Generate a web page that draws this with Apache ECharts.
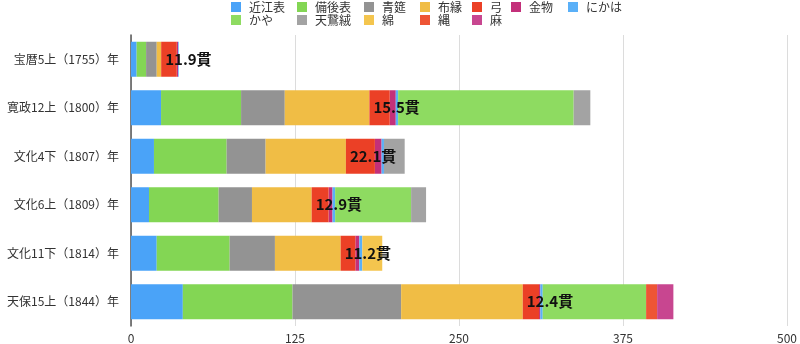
<!DOCTYPE html>
<html>
<head>
<meta charset="utf-8">
<script src="https://cdn.jsdelivr.net/npm/echarts@6/dist/echarts.min.js"></script>
<style>
  html, body { margin: 0; padding: 0; background: #fff; }
  #chart { width: 800px; height: 344px; }
</style>
</head>
<body>
<div id="chart"></div>
<script>
// 畳関連品目の年次別内訳（単位：貫）
const categories = ['宝暦5上（1755）年', '寛政12上（1800）年', '文化4下（1807）年', '文化6上（1809）年', '文化11下（1814）年', '天保15上（1844）年'];

const oumiomote   = [4.3, 22.9, 17.5, 13.7, 19.6, 39.5];
const bingoomote  = [7.2, 61.0, 55.4, 53.1, 55.6, 83.6];
const aomushiro   = [8.1, 33.3, 29.7, 25.4, 34.5, 82.8];
const nunoberi    = [3.4, 64.5, 61.2, 45.5, 50.1, 92.7];
const yumi        = [11.9, 15.5, 22.1, 12.9, 11.2, 12.4];
const kanamono    = [1.0, 4.6, 5.1, 3.0, 3.0, 1.0];
const nikawa      = [0.5, 1.8, 1.8, 2.0, 2.3, 1.8];
const kaya        = [0, 133.8, 0, 57.9, 0, 78.8];
const biroudo     = [0, 12.7, 15.8, 11.4, 0, 0];
const wata        = [0, 0, 0, 0, 15.2, 0];
const nawa        = [0, 0, 0, 0, 0, 8.4];
const asa         = [0, 0, 0, 0, 0, 12.4];

const xTicks = [0, 125, 250, 375, 500];

const FONT = '"Noto Sans CJK JP", "Noto Sans", sans-serif';

const seriesDefs = [
  { name: '近江表', data: oumiomote,  color: '#4aa3f8' },
  { name: '備後表', data: bingoomote, color: '#83d654' },
  { name: '青筵',   data: aomushiro,  color: '#939393' },
  { name: '布縁',   data: nunoberi,   color: '#f0bd45' },
  { name: '弓',     data: yumi,       color: '#eb4026', labelled: true },
  { name: '金物',   data: kanamono,   color: '#c3307a' },
  { name: 'にかは', data: nikawa,     color: '#5ab0f8' },
  { name: 'かや',   data: kaya,       color: '#8edb61' },
  { name: '天鵞絨', data: biroudo,    color: '#a3a3a3' },
  { name: '綿',     data: wata,       color: '#f4c54e' },
  { name: '縄',     data: nawa,       color: '#ee5535' },
  { name: '麻',     data: asa,        color: '#c84690' }
];

// legend columns: each column holds up to two entries stacked vertically
const legendColumns = [
  { x: 231, items: ['近江表', 'かや'] },
  { x: 297, items: ['備後表', '天鵞絨'] },
  { x: 364, items: ['青筵', '綿'] },
  { x: 420, items: ['布縁', '縄'] },
  { x: 472, items: ['弓', '麻'] },
  { x: 511, items: ['金物'] },
  { x: 568, items: ['にかは'] }
];

const legends = legendColumns.map(col => ({
  orient: 'vertical',
  left: col.x,
  top: 1,
  padding: 0,
  data: col.items,
  icon: 'rect',
  itemWidth: 10,
  itemHeight: 10,
  itemGap: 1,
  selectedMode: false,
  textStyle: {
    fontFamily: FONT,
    fontSize: 12,
    lineHeight: 11,
    color: '#333',
    padding: [0, 0, 0, 3]
  }
}));

const series = seriesDefs.map(s => ({
  name: s.name,
  type: 'bar',
  stack: 'total',
  barWidth: 35,
  z: s.labelled ? 4 : 2,
  itemStyle: { color: s.color },
  data: s.data,
  label: s.labelled ? {
    show: true,
    position: 'insideLeft',
    distance: 4,
    formatter: p => p.value.toFixed(1) + '貫',
    fontFamily: FONT,
    fontSize: 15,
    fontWeight: 'bold',
    color: '#111'
  } : { show: false }
}));

const chart = echarts.init(document.getElementById('chart'), null, { renderer: 'canvas' });
chart.setOption({
  animation: false,
  backgroundColor: '#fff',
  legend: legends,
  grid: { left: 131, right: 13, top: 35, bottom: 15, containLabel: false },
  xAxis: {
    type: 'value',
    min: xTicks[0],
    max: xTicks[xTicks.length - 1],
    interval: xTicks[1] - xTicks[0],
    axisLine: { show: false },
    axisTick: { show: false },
    splitLine: { show: true, lineStyle: { color: '#dcdcdc', width: 1 } },
    axisLabel: { color: '#333', fontFamily: FONT, fontSize: 12, margin: 6 }
  },
  yAxis: {
    type: 'category',
    inverse: true,
    data: categories,
    axisLine: { show: true, lineStyle: { color: '#555', width: 1.5 } },
    axisTick: { show: false },
    axisLabel: { color: '#333', fontFamily: FONT, fontSize: 12, margin: 12 }
  },
  series: series
});
</script>
</body>
</html>
